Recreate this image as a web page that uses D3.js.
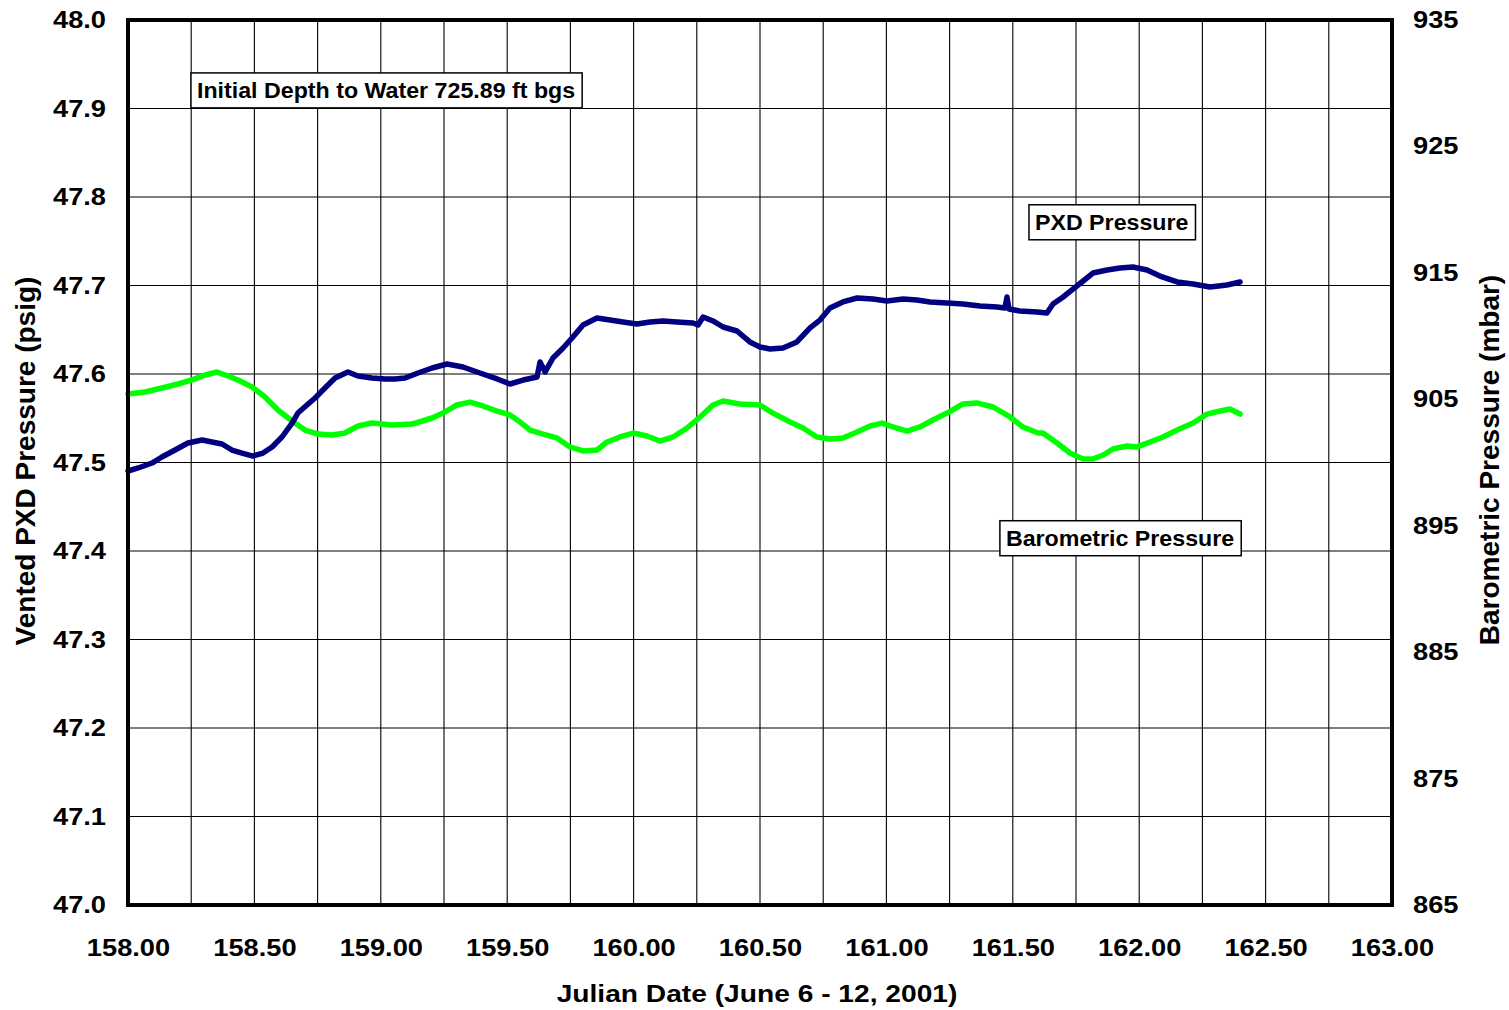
<!DOCTYPE html>
<html>
<head>
<meta charset="utf-8">
<script src="https://cdn.jsdelivr.net/npm/d3@7"></script>
<style>
  html, body { margin: 0; padding: 0; background: #fff; }
  svg { display: block; font-family: "Liberation Sans", Arial, sans-serif; font-weight: bold; }
</style>
</head>
<body>
<svg id="chart" width="1509" height="1010"></svg>
<script>
// Vented PXD pressure (psig) vs Julian date
const pxdDays = [158.000,158.040,158.095,158.134,158.186,158.237,158.293,158.332,158.372,158.411,158.451,158.494,158.534,158.570,158.609,158.649,158.672,158.708,158.740,158.779,158.819,158.870,158.910,158.965,159.017,159.056,159.096,159.147,159.203,159.262,159.325,159.392,159.460,159.511,159.563,159.618,159.630,159.650,159.681,159.721,159.760,159.800,159.855,159.907,159.958,160.013,160.065,160.116,160.172,160.235,160.255,160.275,160.314,160.354,160.409,160.460,160.500,160.540,160.591,160.646,160.698,160.737,160.777,160.828,160.884,160.947,161.002,161.066,161.121,161.173,161.240,161.303,161.370,161.438,161.469,161.477,161.485,161.528,161.596,161.635,161.659,161.699,161.738,161.778,161.817,161.873,161.924,161.975,162.031,162.082,162.150,162.213,162.280,162.347,162.399];
const pxdPsig = [47.4904,47.4938,47.4994,47.5062,47.5141,47.5220,47.5254,47.5232,47.5209,47.5141,47.5107,47.5073,47.5107,47.5175,47.5288,47.5446,47.5559,47.5650,47.5729,47.5842,47.5955,47.6023,47.5977,47.5955,47.5944,47.5944,47.5955,47.6011,47.6068,47.6113,47.6079,47.6011,47.5944,47.5887,47.5932,47.5966,47.6136,47.6023,47.6181,47.6294,47.6418,47.6554,47.6633,47.6610,47.6588,47.6565,47.6588,47.6599,47.6588,47.6576,47.6554,47.6644,47.6599,47.6531,47.6486,47.6362,47.6305,47.6283,47.6294,47.6362,47.6520,47.6610,47.6746,47.6814,47.6859,47.6847,47.6825,47.6847,47.6836,47.6814,47.6802,47.6791,47.6768,47.6757,47.6746,47.6870,47.6734,47.6712,47.6701,47.6689,47.6791,47.6870,47.6960,47.7051,47.7141,47.7175,47.7198,47.7209,47.7175,47.7107,47.7040,47.7017,47.6983,47.7006,47.7040];

// Barometric pressure (mbar) vs Julian date
const baroDays = [158.000,158.067,158.134,158.198,158.253,158.305,158.352,158.396,158.435,158.491,158.542,158.593,158.649,158.700,158.752,158.807,158.858,158.910,158.965,159.044,159.123,159.203,159.246,159.301,159.353,159.404,159.460,159.511,159.551,159.590,159.642,159.697,159.748,159.800,159.855,159.895,159.946,159.998,160.053,160.104,160.156,160.211,160.263,160.314,160.354,160.421,160.500,160.551,160.619,160.670,160.725,160.777,160.828,160.884,160.935,160.983,161.026,161.081,161.133,161.184,161.240,161.303,161.358,161.422,161.489,161.540,161.600,161.619,161.675,161.726,161.778,161.817,161.857,161.896,161.952,161.991,162.043,162.094,162.150,162.213,162.268,162.320,162.359,162.399];
const baroMbar = [905.42,905.58,905.89,906.21,906.53,906.92,907.16,906.84,906.53,905.97,905.18,904.15,903.28,902.57,902.25,902.18,902.33,902.89,903.12,902.97,903.04,903.52,903.91,904.55,904.78,904.47,904.07,903.76,903.20,902.57,902.25,901.94,901.23,900.91,900.99,901.62,902.02,902.33,902.10,901.70,902.02,902.73,903.60,904.55,904.86,904.63,904.55,903.91,903.20,902.73,902.02,901.86,901.94,902.41,902.89,903.12,902.81,902.49,902.81,903.36,903.91,904.63,904.71,904.39,903.60,902.81,902.33,902.33,901.54,900.75,900.28,900.28,900.59,901.07,901.30,901.23,901.62,902.02,902.57,903.12,903.83,904.07,904.23,903.83];

// Axis ticks and labels
const xLabelTicks = [158.0,158.5,159.0,159.5,160.0,160.5,161.0,161.5,162.0,162.5,163.0];
const xGridTicks = d3.range(0, 21).map(i => 158 + i * 0.25);
const leftTicks = d3.range(0, 11).map(i => 47 + i * 0.1);
const rightTicks = [865,875,885,895,905,915,925,935];

const notes = [
  { text: "Initial Depth to Water 725.89 ft bgs", day: 158.245, psig: 47.921 },
  { text: "PXD Pressure", day: 161.56, psig: 47.772 },
  { text: "Barometric Pressure", day: 161.445, psig: 47.415 }
];

const svg = d3.select("#chart");
const L = 128, R = 1392, T = 20, B = 905;

const x = d3.scaleLinear().domain([158, 163]).range([L, R]);
const yL = d3.scaleLinear().domain([47, 48]).range([B, T]);
const yR = d3.scaleLinear().domain([865, 935]).range([B, T]);

// widen glyphs horizontally about each text's anchor x
function widen(sel, s) {
  sel.each(function () {
    const ax = +(this.getAttribute("x") || 0);
    d3.select(this).attr("transform", `translate(${ax * (1 - s)},0) scale(${s},1)`);
  });
}

// grid
svg.append("g").selectAll("line").data(xGridTicks).join("line")
  .attr("x1", d => x(d)).attr("x2", d => x(d)).attr("y1", T).attr("y2", B)
  .attr("stroke", "#000").attr("stroke-width", 1.1);
svg.append("g").selectAll("line").data(leftTicks).join("line")
  .attr("x1", L).attr("x2", R).attr("y1", d => yL(d)).attr("y2", d => yL(d))
  .attr("stroke", "#000").attr("stroke-width", 1.1);

// series
const line = (ys) => d3.line().x(d => x(d[0])).y(d => ys(d[1]));
svg.append("path")
  .datum(baroDays.map((d, i) => [d, baroMbar[i]]))
  .attr("d", line(yR)).attr("fill", "none").attr("stroke", "#00FF00")
  .attr("stroke-width", 5.5).attr("stroke-linejoin", "round").attr("stroke-linecap", "round");
svg.append("path")
  .datum(pxdDays.map((d, i) => [d, pxdPsig[i]]))
  .attr("d", line(yL)).attr("fill", "none").attr("stroke", "#000080")
  .attr("stroke-width", 5.5).attr("stroke-linejoin", "round").attr("stroke-linecap", "round");

// frame
svg.append("rect").attr("x", L).attr("y", T).attr("width", R - L).attr("height", B - T)
  .attr("fill", "none").attr("stroke", "#000").attr("stroke-width", 4);

// axes
const fs = 23.5, stretch = 1.16;
const ax = svg.append("g").attr("transform", `translate(0,${B})`)
  .call(d3.axisBottom(x).tickValues(xLabelTicks).tickFormat(d3.format(".2f")).tickSize(0).tickPadding(34));
const al = svg.append("g").attr("transform", `translate(${L},0)`)
  .call(d3.axisLeft(yL).tickValues(leftTicks).tickFormat(d3.format(".1f")).tickSize(0).tickPadding(22));
const ar = svg.append("g").attr("transform", `translate(${R},0)`)
  .call(d3.axisRight(yR).tickValues(rightTicks).tickFormat(d3.format("d")).tickSize(0).tickPadding(21));
[ax, al, ar].forEach(g => {
  g.select(".domain").remove();
  g.selectAll("text").attr("font-family", "Liberation Sans, Arial, sans-serif")
    .attr("font-weight", "bold").attr("font-size", fs).attr("fill", "#000");
  widen(g.selectAll("text"), stretch);
});

// axis titles
widen(svg.append("text").attr("x", 757).attr("y", 1002).attr("text-anchor", "middle")
  .attr("font-size", 24.5).text("Julian Date (June 6 - 12, 2001)"), 1.15);
svg.append("text").attr("transform", "translate(35,461) rotate(-90)").attr("text-anchor", "middle")
  .attr("font-size", 28).text("Vented PXD Pressure (psig)");
svg.append("text").attr("transform", "translate(1499,460) rotate(-90)").attr("text-anchor", "middle")
  .attr("font-size", 28).text("Barometric Pressure (mbar)");

// annotation boxes
notes.forEach(n => {
  const g = svg.append("g");
  const t = g.append("text").attr("x", x(n.day) + 7).attr("y", yL(n.psig) + 8)
    .attr("font-size", 22).text(n.text);
  widen(t, 1.055);
  const bb = t.node().getBoundingClientRect();
  g.insert("rect", "text").attr("x", bb.left - 6).attr("y", yL(n.psig) - 17)
    .attr("width", bb.width + 13).attr("height", 35)
    .attr("fill", "#fff").attr("stroke", "#000").attr("stroke-width", 1.5);
});
</script>
</body>
</html>
